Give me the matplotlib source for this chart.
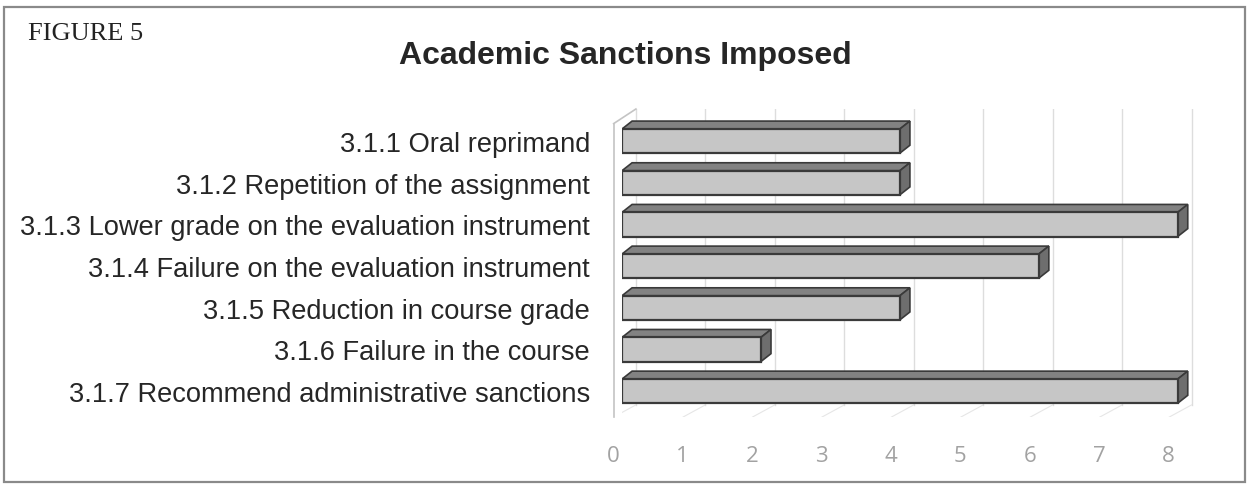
import matplotlib.pyplot as plt
from matplotlib.patches import Polygon, Rectangle
from matplotlib.transforms import ScaledTranslation

# Chart data
categories = [
	"3.1.1 Oral reprimand",
	"3.1.2 Repetition of the assignment",
	"3.1.3 Lower grade on the evaluation instrument",
	"3.1.4 Failure on the evaluation instrument",
	"3.1.5 Reduction in course grade",
	"3.1.6 Failure in the course",
	"3.1.7 Recommend administrative sanctions",
]
counts = [4, 4, 8, 6, 4, 2, 8]
x_ticks = [0, 1, 2, 3, 4, 5, 6, 7, 8]

title = "Academic Sanctions Imposed"
figure_label = "FIGURE 5"

# 3D look (in axis units)
half_h = 0.29
depth_x = 0.145
depth_y = 0.19
wall_x = 0.2
wall_y = 0.29


def main():
	fig = plt.figure(figsize=(12.5, 4.89), dpi=100)
	fig.patch.set_facecolor("white")

	# Outer frame of the scanned figure
	fig.patches.append(Rectangle(
		(4 / 1250, 1 - 483 / 489), 1241 / 1250, 475 / 489,
		transform=fig.transFigure, fill=False, edgecolor="#8a8a8a", linewidth=1.6
	))

	fig.text(28 / 1250, 1 - 34 / 489, figure_label, family="Liberation Serif",
			 fontsize=19, color="#222222", va="center", ha="left")
	fig.text(625 / 1250, 1 - 56 / 489, title, family="Liberation Sans",
			 fontsize=23, fontweight="bold", color="#262626", va="center", ha="center")

	ax = fig.add_axes([622 / 1250, 1 - 418 / 489, 580 / 1250, 308 / 489])
	ax.set_xlim(0, 8.35)
	ax.set_ylim(6.62, -0.77)
	for s in ax.spines.values():
		s.set_visible(False)

	floor = 6.62
	top = -0.77

	# back wall grid lines
	for k in x_ticks:
		ax.plot([k + wall_x, k + wall_x], [top, floor - wall_y], color="#dddddd", lw=1.0, zorder=1)
		ax.plot([k - 0.12, k + wall_x], [floor, floor - wall_y], color="#e6e6e6", lw=0.8, zorder=1)

	# left wall edges
	xw = -0.12
	ax.plot([xw, xw], [top + 0.35, floor], color="#c4c4c4", lw=1.2, zorder=1, clip_on=False)
	ax.plot([xw, wall_x], [top + 0.35, top], color="#c4c4c4", lw=1.2, zorder=1, clip_on=False)

	# 3D bars
	for i, v in enumerate(counts):
		y0 = i - half_h
		y1 = i + half_h
		ax.add_patch(Polygon(
			[(0, y0), (v, y0), (v + depth_x, y0 - depth_y), (depth_x, y0 - depth_y)],
			closed=True, facecolor="#828282", edgecolor="#3a3a3a", lw=1.2, zorder=3
		))
		ax.add_patch(Polygon(
			[(v, y0), (v + depth_x, y0 - depth_y), (v + depth_x, y1 - depth_y), (v, y1)],
			closed=True, facecolor="#6e6e6e", edgecolor="#3a3a3a", lw=1.2, zorder=3
		))
		ax.add_patch(Rectangle(
			(0, y0), v, y1 - y0,
			facecolor="#c6c6c6", edgecolor="#3a3a3a", lw=1.6, zorder=4
		))

	ax.set_yticks(range(len(categories)))
	ax.set_yticklabels(categories, family="Liberation Sans", fontsize=19.6, color="#262626")
	ax.tick_params(axis="y", length=0, pad=23)

	ax.set_xticks(x_ticks)
	ax.set_xticklabels([str(k) for k in x_ticks], family="Open Sans", fontsize=16, color="#a2a2a2")
	ax.tick_params(axis="x", length=0, pad=20)
	shift = ScaledTranslation(-9 / 100, 0, fig.dpi_scale_trans)
	for lab in ax.get_xticklabels():
		lab.set_transform(lab.get_transform() + shift)

	plt.savefig("out.png", dpi=100)


if __name__ == "__main__":
	main()
